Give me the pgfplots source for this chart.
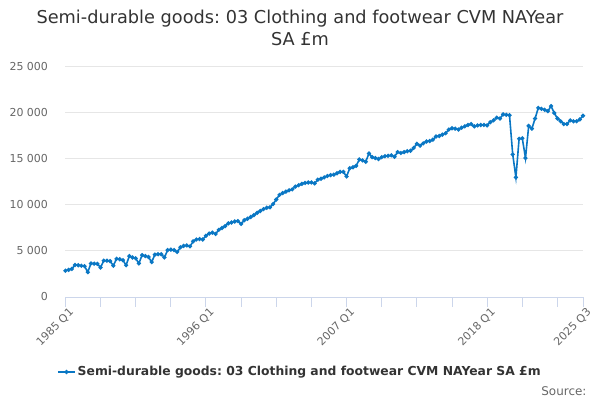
\documentclass[border=0pt]{standalone}
\usepackage{fontspec}
\setmainfont{DejaVu Sans}
\usepackage{pgfplots}
\pgfplotsset{compat=1.18}
\usepackage{pgfplotstable}
\frenchspacing
\definecolor{linec}{HTML}{0A77C4}
\definecolor{titlec}{HTML}{333333}
\definecolor{labc}{HTML}{666666}
\definecolor{gridc}{HTML}{E6E6E6}
\definecolor{axisc}{HTML}{CCD6EB}
\pgfplotstableread{
x y
0 2860
1 2950
2 3050
3 3480
4 3450
5 3400
6 3350
7 2700
8 3650
9 3620
10 3600
11 3200
12 3950
13 3950
14 3900
15 3400
16 4150
17 4100
18 4000
19 3450
20 4450
21 4300
22 4200
23 3650
24 4550
25 4450
26 4350
27 3800
28 4600
29 4650
30 4650
31 4300
32 5100
33 5150
34 5100
35 4900
36 5400
37 5550
38 5600
39 5500
40 6050
41 6250
42 6300
43 6250
44 6650
45 6900
46 7000
47 6850
48 7300
49 7500
50 7700
51 8000
52 8100
53 8200
54 8250
55 7950
56 8350
57 8500
58 8700
59 8900
60 9150
61 9350
62 9550
63 9700
64 9750
65 10100
66 10600
67 11100
68 11300
69 11450
70 11600
71 11700
72 12000
73 12150
74 12300
75 12400
76 12450
77 12450
78 12350
79 12750
80 12850
81 13000
82 13150
83 13250
84 13300
85 13450
86 13600
87 13600
88 13100
89 14000
90 14100
91 14250
92 14950
93 14850
94 14700
95 15600
96 15200
97 15100
98 15000
99 15200
100 15300
101 15350
102 15400
103 15250
104 15750
105 15650
106 15750
107 15850
108 15900
109 16200
110 16650
111 16450
112 16700
113 16900
114 16950
115 17100
116 17450
117 17500
118 17650
119 17800
120 18200
121 18350
122 18300
123 18200
124 18400
125 18550
126 18700
127 18800
128 18550
129 18650
130 18700
131 18700
132 18650
133 19000
134 19200
135 19500
136 19400
137 19850
138 19800
139 19750
140 15500
141 13000
142 17200
143 17250
144 15100
145 18600
146 18300
147 19400
148 20550
149 20450
150 20350
151 20200
152 20750
153 20000
154 19400
155 19100
156 18800
157 18800
158 19200
159 19100
160 19100
161 19300
162 19700
}\datatable

\begin{document}
\begin{tikzpicture}
\useasboundingbox (0,0) rectangle (600bp,400bp);
\node[anchor=base, font=\fontsize{17.8}{21}\selectfont, text=titlec] at (300bp,376bp) {Semi-durable goods: 03 Clothing and footwear CVM NAYear};
\node[anchor=base, font=\fontsize{17.8}{21}\selectfont, text=titlec] at (300bp,354bp) {SA £m};
\begin{axis}[
  at={(65.4bp,103bp)}, anchor=south west,
  scale only axis, width=517.6bp, height=230bp,
  xmin=0, xmax=162, ymin=0, ymax=25000,
  axis x line*=bottom, axis y line*=left,
  x axis line style={color=axisc, line width=1bp, -},
  y axis line style={draw=none},
  ytick={0,5000,10000,15000,20000,25000},
  ymajorgrids, grid style={gridc, line width=1bp},
  ytick style={draw=none},
  xtick={0,44,88,132,162},
  xticklabels={1985 Q1,1996 Q1,2007 Q1,2018 Q1,2025 Q3},
  minor xtick={11,22,33,55,66,77,99,110,121,143,154},
  xtick style={color=axisc, line width=1bp},
  minor x tick style={color=axisc, line width=1bp},
  tick align=outside, major tick length=10bp, minor tick length=10bp,
  xticklabel style={font=\fontsize{11}{13}\selectfont, text=labc, rotate=45, anchor=north east, inner sep=1bp, xshift=3bp, yshift=-1bp},
  yticklabel style={font=\fontsize{11}{13}\selectfont, text=labc, xshift=-4bp},
  scaled y ticks=false,
  /pgf/number format/.cd, assume math mode=true, 1000 sep={\ },
  /pgfplots/.cd,
  legend style={at={(0.453,-0.326)}, anchor=center, draw=none, fill=none, font=\bfseries\fontsize{12.4}{14}\selectfont, text=titlec},
  clip=false,
]
\addplot[color=linec, line width=1.6bp, mark=*, mark size=1.2bp] table[x=x,y=y]{\datatable};
\addlegendentry{Semi-durable goods: 03 Clothing and footwear CVM NAYear SA £m}
\end{axis}
\node[anchor=base east, font=\fontsize{12}{14}\selectfont, text=labc] at (590bp,5bp) {Source:};
\end{tikzpicture}
\end{document}
